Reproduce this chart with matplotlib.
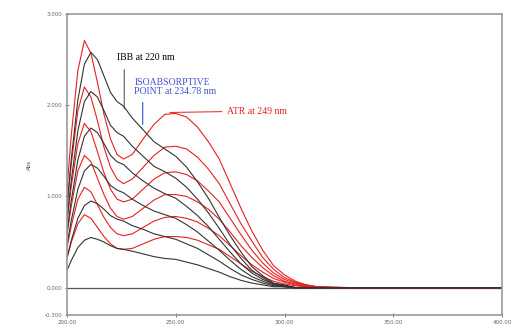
import matplotlib.pyplot as plt

# wavelength grid (nm)
wl = [200, 202, 205, 208, 211, 214, 217, 220, 223, 226, 230, 235, 240, 245, 250,
      255, 260, 265, 270, 275, 280, 285, 290, 295, 300, 305, 310, 315, 320, 330, 400]

# black spectra (IBB series)
b1 = [0.90, 1.42, 2.06, 2.45, 2.58, 2.50, 2.32, 2.14, 2.04, 1.99, 1.86, 1.73, 1.60, 1.52, 1.44,
      1.32, 1.16, 0.98, 0.77, 0.57, 0.39, 0.23, 0.13, 0.05, 0.03, 0, 0, 0, 0, 0, 0]
b2 = [0.75, 1.18, 1.72, 2.04, 2.15, 2.09, 1.94, 1.78, 1.70, 1.66, 1.55, 1.44, 1.33, 1.27, 1.20,
      1.10, 0.97, 0.82, 0.65, 0.47, 0.32, 0.19, 0.11, 0.04, 0.02, 0, 0, 0, 0, 0, 0]
b3 = [0.61, 0.96, 1.40, 1.66, 1.75, 1.70, 1.58, 1.45, 1.38, 1.35, 1.26, 1.17, 1.09, 1.03, 0.98,
      0.89, 0.79, 0.67, 0.53, 0.39, 0.26, 0.16, 0.09, 0.04, 0.02, 0, 0, 0, 0, 0, 0]
b4 = [0.47, 0.74, 1.08, 1.28, 1.35, 1.31, 1.22, 1.12, 1.07, 1.04, 0.97, 0.90, 0.84, 0.80, 0.76,
      0.69, 0.61, 0.51, 0.41, 0.30, 0.20, 0.12, 0.07, 0.03, 0.01, 0, 0, 0, 0, 0, 0]
b5 = [0.33, 0.52, 0.76, 0.90, 0.95, 0.92, 0.86, 0.79, 0.75, 0.73, 0.68, 0.64, 0.59, 0.56, 0.53,
      0.48, 0.43, 0.36, 0.29, 0.21, 0.14, 0.09, 0.05, 0.02, 0.01, 0, 0, 0, 0, 0, 0]
b6 = [0.19, 0.30, 0.44, 0.52, 0.55, 0.53, 0.50, 0.46, 0.43, 0.42, 0.40, 0.37, 0.34, 0.32, 0.31,
      0.28, 0.25, 0.21, 0.17, 0.12, 0.08, 0.05, 0.03, 0.01, 0.01, 0, 0, 0, 0, 0, 0]

# red spectra (ATR series)
r1 = [1.08, 1.68, 2.38, 2.71, 2.57, 2.25, 1.90, 1.63, 1.46, 1.41, 1.46, 1.63, 1.79, 1.90, 1.91,
      1.87, 1.76, 1.60, 1.41, 1.14, 0.87, 0.62, 0.41, 0.24, 0.14, 0.07, 0.03, 0.01, 0.01, 0, 0]
r2 = [0.88, 1.36, 1.94, 2.20, 2.09, 1.83, 1.54, 1.32, 1.19, 1.14, 1.19, 1.32, 1.45, 1.54, 1.55,
      1.52, 1.43, 1.30, 1.14, 0.92, 0.70, 0.51, 0.33, 0.20, 0.11, 0.06, 0.03, 0.01, 0, 0, 0]
r3 = [0.72, 1.12, 1.58, 1.80, 1.71, 1.49, 1.26, 1.08, 0.97, 0.94, 0.97, 1.08, 1.19, 1.26, 1.27,
      1.24, 1.17, 1.06, 0.94, 0.76, 0.58, 0.41, 0.27, 0.16, 0.09, 0.05, 0.02, 0.01, 0, 0, 0]
r4 = [0.58, 0.90, 1.28, 1.45, 1.38, 1.20, 1.02, 0.87, 0.78, 0.75, 0.78, 0.87, 0.96, 1.02, 1.02,
      1.00, 0.94, 0.86, 0.75, 0.61, 0.46, 0.33, 0.22, 0.13, 0.07, 0.04, 0.02, 0.01, 0, 0, 0]
r5 = [0.44, 0.68, 0.97, 1.10, 1.05, 0.91, 0.77, 0.66, 0.59, 0.57, 0.59, 0.66, 0.73, 0.77, 0.78,
      0.76, 0.72, 0.65, 0.57, 0.46, 0.35, 0.25, 0.17, 0.10, 0.06, 0.03, 0.01, 0.01, 0, 0, 0]
r6 = [0.32, 0.50, 0.70, 0.80, 0.76, 0.66, 0.56, 0.48, 0.43, 0.42, 0.43, 0.48, 0.53, 0.56, 0.56,
      0.55, 0.52, 0.47, 0.42, 0.34, 0.26, 0.18, 0.12, 0.07, 0.04, 0.02, 0.01, 0, 0, 0, 0]

black = [b1, b2, b3, b4, b5, b6]
red = [r1, r2, r3, r4, r5, r6]

xticks = [200, 250, 300, 350, 400]
yticks = [-0.3, 0, 1, 2, 3]

fig = plt.figure(figsize=(5.13, 3.31), dpi=100)
ax = fig.add_axes([0.1306, 0.0483, 0.848, 0.9094])

ax.axhline(0, color='#555555', lw=0.9)
for s in red:
    ax.plot(wl, s, color='#e82020', lw=0.8)
for s in black:
    ax.plot(wl, s, color='#333333', lw=0.8)

ax.set_xlim(200, 400)
ax.set_ylim(-0.3, 3.0)
ax.set_xticks(xticks)
ax.set_xticklabels(['%.2f' % v for v in xticks])
ax.set_yticks(yticks)
ax.set_yticklabels(['%.3f' % v for v in yticks])
ax.tick_params(labelsize=4, colors='#666666', length=2.5, width=0.6, direction='inout', pad=2)
for sp in ax.spines.values():
    sp.set_color('#999999')
    sp.set_linewidth(1.2)
ax.set_ylabel('Abs', fontsize=4, color='#444444', labelpad=9)

tf = dict(family='Liberation Serif', fontsize=7)

# IBB label and its pointer
ax.text(223.0, 2.47, 'IBB at 220 nm', color='black', ha='left', va='bottom', **tf)
ax.annotate('', xy=(226.3, 1.93), xytext=(226.3, 2.42),
            arrowprops=dict(arrowstyle='-', color='#444444', lw=0.7))

# isoabsorptive point
ax.text(231.0, 2.10, 'ISOABSORPTIVE\nPOINT at 234.78 nm', color='#4455cc',
        ha='left', va='bottom', linespacing=1.05, **tf)
ax.annotate('', xy=(234.8, 1.76), xytext=(234.8, 2.06),
            arrowprops=dict(arrowstyle='-', color='#4466cc', lw=0.9))

# ATR label and its pointer
ax.text(273.5, 1.93, 'ATR at 249 nm', color='#e82020', ha='left', va='center', **tf)
ax.annotate('', xy=(246.0, 1.92), xytext=(272.5, 1.93),
            arrowprops=dict(arrowstyle='-', color='#e82020', lw=0.7))

fig.savefig('out.png', dpi=100)
